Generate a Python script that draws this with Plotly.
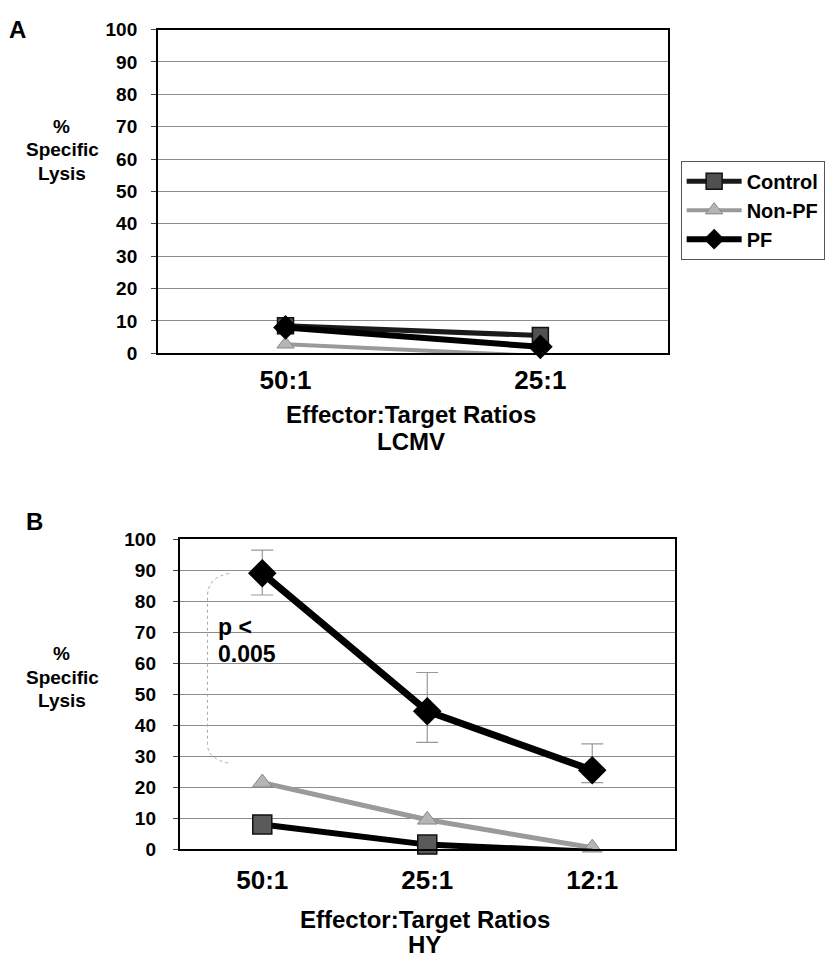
import plotly.graph_objects as go

W, H = 825, 962

# ---------------- data ----------------
ratios_a = ["50:1", "25:1"]
control_a = [8.5, 5.5]
nonpf_a = [2.8, -0.8]
pf_a = [8.0, 2.0]

ratios_b = ["50:1", "25:1", "12:1"]
control_b = [8.0, 1.5, -0.8]
nonpf_b = [21.5, 9.5, 0.5]
pf_b = [89.0, 44.5, 25.5]
pf_b_err_plus = [7.5, 12.5, 8.5]
pf_b_err_minus = [7.0, 10.0, 4.0]

y_ticks = [0, 10, 20, 30, 40, 50, 60, 70, 80, 90, 100]

FONT = "Liberation Sans"


def px(x):
    return x / W


def py(y):
    return 1 - y / H


fig = go.Figure()

# ---------- Panel A ----------
fig.add_trace(go.Scatter(
    x=ratios_a, y=control_a, name="Control", mode="lines+markers",
    line=dict(color="#1a1a1a", width=5),
    marker=dict(symbol="square", size=16, color="#505050", line=dict(color="#111", width=1.5)),
    xaxis="x", yaxis="y", cliponaxis=False))
fig.add_trace(go.Scatter(
    x=ratios_a, y=nonpf_a, name="Non-PF", mode="lines+markers",
    line=dict(color="#9a9a9a", width=4),
    marker=dict(symbol="triangle-up", size=15, color="#b5b5b5", line=dict(color="#888", width=1)),
    xaxis="x", yaxis="y", cliponaxis=False))
fig.add_trace(go.Scatter(
    x=ratios_a, y=pf_a, name="PF", mode="lines+markers",
    line=dict(color="#000", width=6),
    marker=dict(symbol="diamond", size=19, color="#000"),
    xaxis="x", yaxis="y", cliponaxis=False))

# ---------- Panel B ----------
fig.add_trace(go.Scatter(
    x=ratios_b, y=nonpf_b, name="Non-PF", mode="lines+markers", showlegend=False,
    line=dict(color="#9a9a9a", width=5),
    marker=dict(symbol="triangle-up", size=17, color="#b5b5b5", line=dict(color="#888", width=1)),
    xaxis="x2", yaxis="y2", cliponaxis=False))
fig.add_trace(go.Scatter(
    x=ratios_b, y=control_b, name="Control", mode="lines+markers", showlegend=False,
    line=dict(color="#000", width=6),
    marker=dict(symbol="square", size=19, color="#5a5a5a", line=dict(color="#111", width=1.5)),
    xaxis="x2", yaxis="y2", cliponaxis=False))
fig.add_trace(go.Scatter(
    x=ratios_b, y=pf_b, name="PF", mode="lines+markers", showlegend=False,
    line=dict(color="#000", width=7),
    marker=dict(symbol="diamond", size=22, color="#000"),
    error_y=dict(type="data", symmetric=False, array=pf_b_err_plus, arrayminus=pf_b_err_minus,
                 color="#999", thickness=1.2, width=11),
    xaxis="x2", yaxis="y2", cliponaxis=False))

tickfont_y = dict(family=FONT, size=19, color="#000", weight="bold")
tickfont_x = dict(family=FONT, size=26, color="#000", weight="bold")

common_y = dict(range=[0, 100], tickvals=y_ticks, showgrid=True, gridcolor="#8c8c8c", gridwidth=1,
                showline=True, mirror=True, linecolor="#000", linewidth=2,
                ticks="outside", ticklen=5, tickcolor="#444", tickfont=tickfont_y, zeroline=False)
common_x = dict(showline=True, mirror=True, linecolor="#000", linewidth=2, showgrid=False,
                ticks="", tickfont=tickfont_x, zeroline=False)

fig.update_layout(
    width=W, height=H, margin=dict(l=0, r=0, t=0, b=0),
    paper_bgcolor="white", plot_bgcolor="white",
    font=dict(family=FONT, color="#000"),
    xaxis=dict(domain=[px(160), px(676)], anchor="y", range=[-0.5, 1.5],
               ticklabelstandoff=2, **common_x),
    yaxis=dict(domain=[py(351), py(20)], anchor="x", ticklabelstandoff=10, **common_y),
    xaxis2=dict(domain=[px(182), px(683)], anchor="y2", range=[-0.5, 2.5],
                ticklabelstandoff=7, **common_x),
    yaxis2=dict(domain=[py(858), py(541)], anchor="x2", ticklabelstandoff=13, **common_y),
    legend=dict(x=px(689), y=py(154), xanchor="left", yanchor="top",
                bordercolor="#555", borderwidth=1, bgcolor="white",
                font=dict(family=FONT, size=20, color="#000", weight="bold"),
                itemwidth=55, tracegroupgap=0),
    showlegend=True,
)

annots = [
    ("A", 18, 20, 24),
    ("%", 62, 119, 19),
    ("Specific", 63, 143, 19),
    ("Lysis", 63, 167, 19),
    ("Effector:Target Ratios", 416, 414, 24),
    ("LCMV", 416, 441, 24),
    ("B", 35, 523, 24),
    ("%", 62, 658, 19),
    ("Specific", 63, 682, 19),
    ("Lysis", 63, 706, 19),
    ("Effector:Target Ratios", 430, 930, 24),
    ("HY", 430, 955, 24),
]
for text, x, y, s in annots:
    fig.add_annotation(text=text, x=px(x), y=py(y), xref="paper", yref="paper",
                       xanchor="center", yanchor="middle", showarrow=False,
                       font=dict(family=FONT, size=s, color="#000", weight="bold"))

fig.add_annotation(text="p <", x=px(219), y=py(631), xref="paper", yref="paper",
                   xanchor="left", yanchor="middle", showarrow=False,
                   font=dict(family=FONT, size=23, color="#000", weight="bold"))
fig.add_annotation(text="0.005", x=px(219), y=py(658), xref="paper", yref="paper",
                   xanchor="left", yanchor="middle", showarrow=False,
                   font=dict(family=FONT, size=23, color="#000", weight="bold"))

# faint bracket next to p-value
x0, x1 = px(210), px(232)
fig.add_shape(type="path", xref="paper", yref="paper",
              path=f"M {x1} {py(576)} Q {x0} {py(580)} {x0} {py(600)} L {x0} {py(750)} "
                   f"Q {x0} {py(766)} {x1} {py(770)}",
              line=dict(color="#aaaaaa", width=1, dash="dot"))

fig.write_html("out.html")
